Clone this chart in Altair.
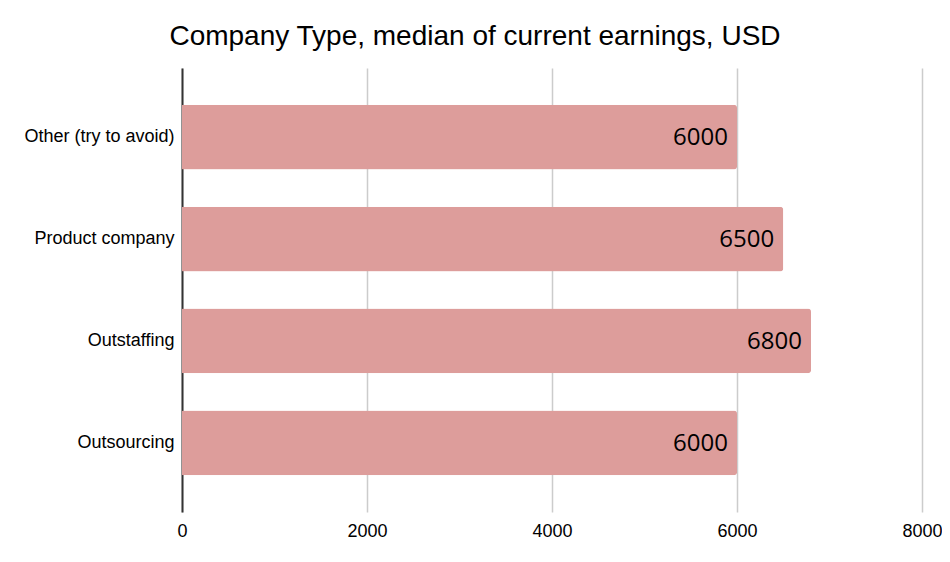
import altair as alt
import pandas as pd

categories = ["Other (try to avoid)", "Product company", "Outstaffing", "Outsourcing"]
values = [6000, 6500, 6800, 6000]
tick_values = [0, 2000, 4000, 6000, 8000]

df = pd.DataFrame({"type": categories, "value": values})

y = alt.Y("type:N", sort=categories, title=None,
          scale=alt.Scale(paddingInner=0.365, paddingOuter=0.36),
          axis=alt.Axis(labelFont="Liberation Sans", labelFontSize=18, labelColor="#000",
                        labelPadding=8, ticks=False, domain=True, domainColor="#333",
                        domainWidth=2, grid=False))
x = alt.X("value:Q", title=None,
          scale=alt.Scale(domain=[0, 8000]),
          axis=alt.Axis(values=tick_values, format="d", labelFont="Liberation Sans",
                        labelFontSize=18, labelColor="#000", ticks=False, domain=False,
                        labelFlush=False,
                        grid=True, gridColor="#cccccc", gridWidth=1.5, labelPadding=10))

bars = alt.Chart(df).mark_bar(color="#dd9d9b", cornerRadiusTopRight=3,
                              cornerRadiusBottomRight=3).encode(x=x, y=y)
labels = alt.Chart(df).mark_text(align="right", baseline="middle", dx=-9, dy=1,
                                 font="Open Sans", fontSize=24, color="#000").encode(
    x=alt.X("value:Q"), y=alt.Y("type:N", sort=categories), text=alt.Text("value:Q", format="d"))

chart = (bars + labels).properties(
    width=740, height=444,
    background="white",
    autosize=alt.AutoSizeParams(type="none"),
    padding={"left": 174, "top": 60, "right": 20, "bottom": 46},
    title=alt.TitleParams("Company Type, median of current earnings, USD",
                          font="Liberation Sans", fontSize=28, fontWeight="normal",
                          color="#000", anchor="middle", frame="bounds", offset=17, dx=-8),
).configure_view(strokeWidth=0, stroke=None)

chart.save("out.html", embed_options={"renderer": "svg", "actions": False})
